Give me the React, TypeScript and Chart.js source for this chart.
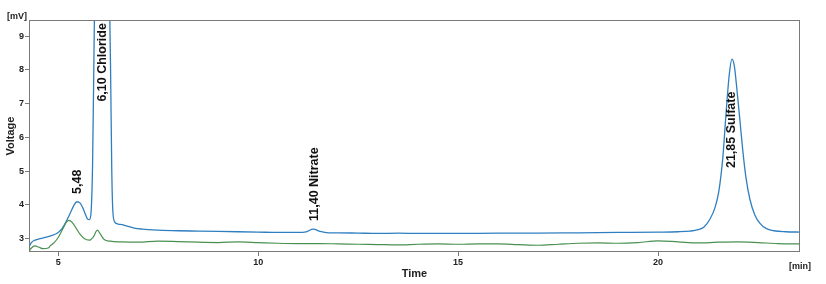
import React, { useEffect, useRef } from "react";
import { Chart, registerables } from "chart.js";

Chart.register(...registerables);

// Retention time [min] / signal [mV] for the main (blue) chromatogram
const blueTimes = [
  4.27, 4.33, 4.42, 4.55, 4.7, 4.87, 5.0, 5.1, 5.2, 5.3, 5.4, 5.47, 5.55, 5.62, 5.68, 5.74, 5.78,
  5.82, 5.86, 5.9, 5.96, 6.05, 6.1, 6.18, 6.26, 6.31, 6.34, 6.37, 6.42, 6.5, 6.6, 6.75, 6.9, 7.1,
  7.5, 8.0, 8.5, 9.0, 9.5, 10.0, 10.5, 11.0, 11.2, 11.38, 11.55, 11.75, 12.0, 12.5, 13.0, 13.5,
  14.0, 14.5, 15.0, 16.0, 17.0, 18.0, 19.0, 20.0, 20.5, 20.8, 21.0, 21.15, 21.3, 21.42, 21.52,
  21.62, 21.7, 21.78, 21.85, 21.91, 21.97, 22.04, 22.12, 22.2, 22.3, 22.42, 22.55, 22.7, 22.9,
  23.2, 23.55,
];
const blueValues = [
  2.75, 2.88, 2.95, 3.0, 3.04, 3.1, 3.18, 3.3, 3.5, 3.75, 4.0, 4.09, 4.05, 3.9, 3.72, 3.57, 3.56,
  3.75, 5.2, 9.0, 14, 19, 20, 17, 12, 8, 5, 3.75, 3.48, 3.43, 3.41, 3.36, 3.31, 3.28,
  3.25, 3.23, 3.22, 3.21, 3.2, 3.19, 3.18, 3.18, 3.2, 3.28, 3.21, 3.17, 3.17, 3.16, 3.15, 3.16,
  3.15, 3.15, 3.15, 3.16, 3.16, 3.17, 3.18, 3.19, 3.2, 3.22, 3.26, 3.34, 3.58, 3.9, 4.4,
  5.4, 6.7, 7.85, 8.32, 8.1, 7.45, 6.6, 5.6, 4.8, 4.15, 3.7, 3.45, 3.3, 3.23,
  3.2, 3.19,
];

// Second (green) trace
const greenTimes = [
  4.27, 4.33, 4.42, 4.52, 4.62, 4.75, 4.8, 4.9, 5.0, 5.1, 5.2, 5.27, 5.35, 5.45, 5.55, 5.65, 5.78,
  5.88, 5.98, 6.06, 6.15, 6.3, 6.6, 7.0, 7.5, 8.0, 8.5, 9.0, 9.5, 10.0, 10.5, 11.0, 11.5, 12.0,
  12.5, 13.0, 13.5, 14.0, 14.5, 15.0, 15.5, 16.0, 16.5, 17.0, 17.5, 18.0, 18.5, 19.0, 19.5,
  20.0, 20.5, 21.0, 21.5, 22.0, 22.5, 23.0, 23.55,
];
const greenValues = [
  2.62, 2.72, 2.78, 2.74, 2.7, 2.72, 2.78, 2.88, 3.03, 3.25, 3.48, 3.54, 3.48, 3.3, 3.12, 3.0, 2.95,
  3.05, 3.25, 3.12, 2.97, 2.92, 2.9, 2.89, 2.92, 2.91, 2.89, 2.88, 2.9, 2.88, 2.86, 2.85, 2.85, 2.84,
  2.83, 2.82, 2.81, 2.83, 2.84, 2.83, 2.84, 2.84, 2.82, 2.8, 2.83, 2.86, 2.87, 2.86, 2.88,
  2.93, 2.9, 2.87, 2.89, 2.9, 2.88, 2.85, 2.84,
];

const xTickValues = [5, 10, 15, 20];
const yTickValues = [3, 4, 5, 6, 7, 8, 9];

const peakTimes = [5.48, 6.1, 11.4, 21.85];
const peakLabels = ["5,48", "6,10 Chloride", "11,40 Nitrate", "21,85 Sulfate"];
const peakLabelBase = [4.32, 7.06, 3.52, 5.09];

const X_MIN = 4.27;
const X_MAX = 23.55;
const Y_MIN = 2.6;
const Y_MAX = 9.48;

const FONT = "'Liberation Sans', Arial, sans-serif";
const AXIS_COLOR = "#7a7a7a";

const toPoints = (xs: number[], ys: number[]) => xs.map((x, i) => ({ x, y: ys[i] }));

const decorPlugin = {
  id: "decor",
  afterDatasetsDraw(chart: any) {
    const { ctx, chartArea, scales } = chart;
    const xs = scales.x;
    const ys = scales.y;
    ctx.save();
    // frame
    ctx.strokeStyle = AXIS_COLOR;
    ctx.lineWidth = 1;
    ctx.strokeRect(
      Math.round(chartArea.left) + 0.5,
      Math.round(chartArea.top) + 0.5,
      Math.round(chartArea.right - chartArea.left) - 1,
      Math.round(chartArea.bottom - chartArea.top) - 1
    );
    // peak labels
    ctx.fillStyle = "#111";
    ctx.font = `bold 12.5px ${FONT}`;
    ctx.textAlign = "left";
    ctx.textBaseline = "middle";
    peakTimes.forEach((t, i) => {
      const px = xs.getPixelForValue(t);
      const py = ys.getPixelForValue(peakLabelBase[i]);
      ctx.save();
      ctx.translate(px, py);
      ctx.rotate(-Math.PI / 2);
      ctx.fillText(peakLabels[i], 0, 0);
      ctx.restore();
    });
    // axis titles
    ctx.fillStyle = "#222";
    ctx.font = `bold 11px ${FONT}`;
    ctx.textAlign = "center";
    ctx.textBaseline = "middle";
    ctx.save();
    ctx.translate(11, (chartArea.top + chartArea.bottom) / 2);
    ctx.rotate(-Math.PI / 2);
    ctx.fillText("Voltage", 0, 0);
    ctx.restore();
    ctx.fillText("Time", (chartArea.left + chartArea.right) / 2, 274);
    ctx.font = `bold 9px ${FONT}`;
    ctx.fillText("[mV]", 17, 17);
    ctx.fillText("[min]", chartArea.right, 267);
    ctx.restore();
  },
};

export default function App() {
  const canvasRef = useRef<HTMLCanvasElement | null>(null);

  useEffect(() => {
    if (!canvasRef.current) return;
    const chart = new Chart(canvasRef.current, {
      type: "line",
      data: {
        datasets: [
          {
            label: "Signal",
            data: toPoints(greenTimes, greenValues),
            borderColor: "#4a9050",
            borderWidth: 1.2,
            pointRadius: 0,
            cubicInterpolationMode: "monotone",
            fill: false,
          },
          {
            label: "Sample",
            data: toPoints(blueTimes, blueValues),
            borderColor: "#2f7fc0",
            borderWidth: 1.3,
            pointRadius: 0,
            cubicInterpolationMode: "monotone",
            fill: false,
          },
        ],
      },
      options: {
        animation: false,
        responsive: false,
        maintainAspectRatio: false,
        layout: { padding: { top: 20, right: 26, left: 0, bottom: 0 } },
        plugins: { legend: { display: false }, tooltip: { enabled: false } },
        scales: {
          x: {
            type: "linear",
            min: X_MIN,
            max: X_MAX,
            afterBuildTicks: (s: any) => {
              s.ticks = xTickValues.map((v) => ({ value: v }));
            },
            afterFit: (s: any) => {
              s.height = 32;
            },
            border: { display: false },
            grid: { drawOnChartArea: false, drawTicks: true, tickLength: 4, color: AXIS_COLOR },
            ticks: {
              padding: 1,
              color: "#222",
              font: { size: 9, weight: "bold", family: FONT },
              maxRotation: 0,
            },
          },
          y: {
            type: "linear",
            min: Y_MIN,
            max: Y_MAX,
            afterBuildTicks: (s: any) => {
              s.ticks = yTickValues.map((v) => ({ value: v }));
            },
            afterFit: (s: any) => {
              s.width = 29;
            },
            border: { display: false },
            grid: { drawOnChartArea: false, drawTicks: true, tickLength: 4, color: AXIS_COLOR },
            ticks: {
              padding: 1,
              color: "#222",
              font: { size: 9, weight: "bold", family: FONT },
            },
          },
        },
      },
      plugins: [decorPlugin],
    } as any);
    return () => chart.destroy();
  }, []);

  return (
    <div style={{ position: "fixed", left: 0, top: 0, width: 826, height: 284, background: "#fff" }}>
      <canvas ref={canvasRef} width={826} height={284} style={{ width: 826, height: 284 }} />
    </div>
  );
}
